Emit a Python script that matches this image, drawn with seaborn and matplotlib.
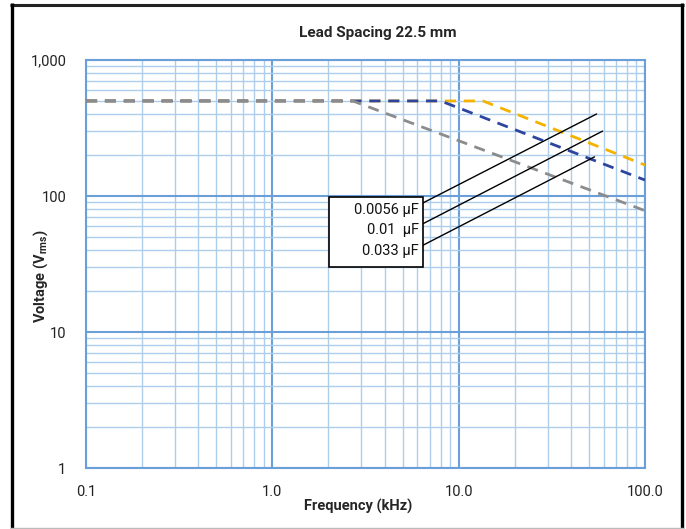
import matplotlib
matplotlib.use("Agg")
import matplotlib.pyplot as plt
from matplotlib.lines import Line2D
from matplotlib.patches import Rectangle
from matplotlib.ticker import FixedLocator, FixedFormatter, LogLocator, NullFormatter
import numpy as np
import pandas as pd
import seaborn as sns

# Capacitance ratings and their voltage derating curves (frequency in kHz, voltage in Vrms)
cap_labels = ["0.0056 μF", "0.01  μF", "0.033 μF"]
freq_0056 = [0.1, 13.5, 100.0]
volt_0056 = [500, 500, 169]
freq_001 = [0.1, 8.0, 100.0]
volt_001 = [500, 500, 131]
freq_033 = [0.1, 2.7, 100.0]
volt_033 = [500, 500, 78]

x_ticks = [0.1, 1.0, 10.0, 100.0]
x_tick_labels = ["0.1", "1.0", "10.0", "100.0"]
y_ticks = [1, 10, 100, 1000]
y_tick_labels = ["1", "10", "100", "1,000"]

series_colors = ["#F5B300", "#2E45A0", "#8C8C8C"]

df = pd.concat([
    pd.DataFrame({"freq": freq_0056, "volt": volt_0056, "cap": cap_labels[0]}),
    pd.DataFrame({"freq": freq_001, "volt": volt_001, "cap": cap_labels[1]}),
    pd.DataFrame({"freq": freq_033, "volt": volt_033, "cap": cap_labels[2]}),
], ignore_index=True)

sns.set_style("white")
plt.rcParams["font.family"] = ["Roboto", "DejaVu Sans"]
narrow = ["Roboto", "DejaVu Sans"]

fig = plt.figure(figsize=(6.86, 5.29), dpi=100)
ax = fig.add_axes([86 / 686, 1 - 468 / 529, (645 - 86) / 686, (468 - 60) / 529])

sns.lineplot(data=df, x="freq", y="volt", hue="cap", hue_order=cap_labels,
             palette=series_colors, ax=ax, legend=False, estimator=None,
             sort=False, linewidth=2.0, zorder=3)
for line in ax.get_lines():
    line.set_dashes((4, 2.8))

ax.set_xscale("log")
ax.set_yscale("log")
ax.set_xlim(0.1, 100)
ax.set_ylim(1, 1000)

major_c = "#6A9FD8"
minor_c = "#ADCDEB"
ax.xaxis.set_major_locator(FixedLocator(x_ticks))
ax.xaxis.set_major_formatter(FixedFormatter(x_tick_labels))
ax.yaxis.set_major_locator(FixedLocator(y_ticks))
ax.yaxis.set_major_formatter(FixedFormatter(y_tick_labels))
ax.xaxis.set_minor_locator(LogLocator(base=10, subs=np.arange(2, 10)))
ax.yaxis.set_minor_locator(LogLocator(base=10, subs=np.arange(2, 10)))
ax.xaxis.set_minor_formatter(NullFormatter())
ax.yaxis.set_minor_formatter(NullFormatter())

ax.grid(which="major", color=major_c, linewidth=1.5, zorder=1)
ax.grid(which="minor", color=minor_c, linewidth=1.0, zorder=1)
ax.set_axisbelow(True)
for s in ax.spines.values():
    s.set_color(major_c)
    s.set_linewidth(1.5)

ax.tick_params(axis="x", which="both", length=0, pad=12, labelsize=10.5, labelcolor="#222222")
ax.tick_params(axis="y", which="major", length=6, width=1.2, color="#7FA8D6",
               pad=8, labelsize=10.5, labelcolor="#222222")
ax.tick_params(axis="y", which="minor", length=0)

ax.set_xlabel("Frequency (kHz)", family=narrow, fontweight="bold", fontsize=10.5)
ax.set_ylabel("Voltage (V$_{\\mathregular{rms}}$)", family=narrow, fontweight="bold", fontsize=10.5)
ax.xaxis.set_label_coords(0.487, -0.077)
ax.yaxis.set_label_coords(-0.064, 0.47)
ax.set_title("Lead Spacing 22.5 mm", family=narrow, fontweight="bold", fontsize=11,
             x=0.522, y=1.057, pad=0)

# Labels box with leader lines to the curves
ax.add_patch(Rectangle((0.4347, 0.4926), 0.1682, 0.1716, transform=ax.transAxes,
                       facecolor="white", edgecolor="black", linewidth=1.2, zorder=5))
label_y = [0.632, 0.583, 0.532]
for lab, yy in zip(cap_labels, label_y):
    ax.text(0.5957, yy, lab, transform=ax.transAxes, ha="right", va="center",
            fontsize=10.5, color="#111111", zorder=6)

leader_start = [(5.96, 84.3), (5.81, 58.2), (6.03, 41.5)]
leader_end = [(55.0, 401), (59.2, 300), (53.6, 194)]
for (x0, y0), (x1, y1) in zip(leader_start, leader_end):
    ax.plot([x0, x1], [y0, y1], color="black", linewidth=1.0, zorder=4)

# Outer frame of the chart
W, H = 686, 529
def px_line(x0, y0, x1, y1, color, lw):
    fig.add_artist(Line2D([x0 / W, x1 / W], [1 - y0 / H, 1 - y1 / H],
                          transform=fig.transFigure, color=color, linewidth=lw,
                          solid_capstyle="butt"))
px_line(10, 4.5, 684, 4.5, "#222222", 2.2)
px_line(12, 3, 12, 529, "black", 2.4)
px_line(682, 3, 682, 529, "black", 2.4)
px_line(10, 528, 684, 528, "#BBBBBB", 1.0)

fig.savefig("out.png", dpi=100)
